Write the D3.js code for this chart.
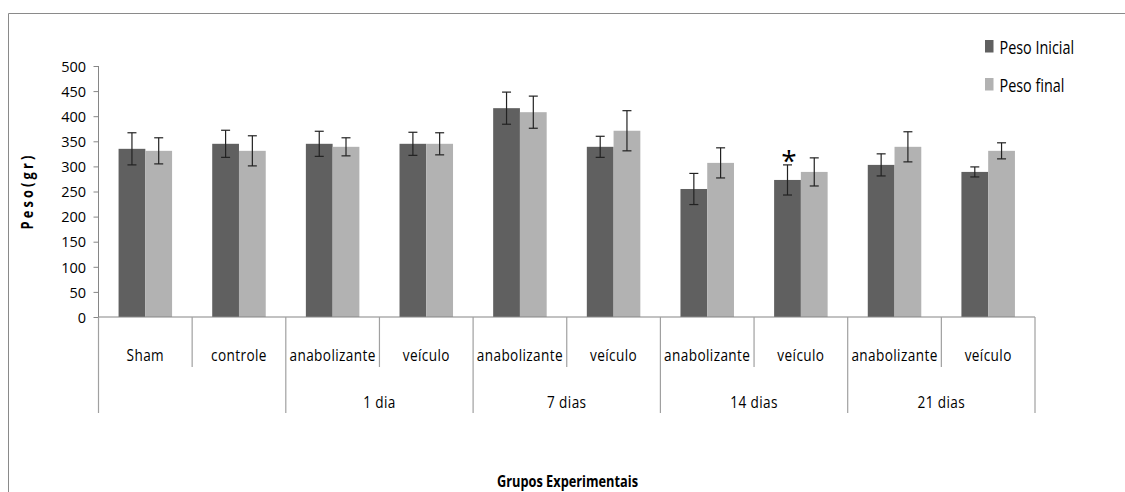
<!DOCTYPE html>
<html>
<head>
<meta charset="utf-8">
<script src="https://cdn.jsdelivr.net/npm/d3@7"></script>
<style>
  html, body { margin: 0; padding: 0; background: #fff; }
  svg { display: block; }
  text { font-family: "Open Sans", "Liberation Sans", sans-serif; fill: #000; }
</style>
</head>
<body>
<svg id="chart" width="1125" height="492"></svg>
<script>
// Experimental groups (bottom row of the category axis)
const categories = ["Sham", "controle", "anabolizante", "veículo", "anabolizante", "veículo",
                    "anabolizante", "veículo", "anabolizante", "veículo"];
const groupLabels = ["", "1 dia", "7 dias", "14 dias", "21 dias"];
const groupStarts = [0, 2, 4, 6, 8];
const groupSizes  = [2, 2, 2, 2, 2];

// Body weight (g) and error per group
const seriesNames = ["Peso Inicial", "Peso final"];
const pesoInicial = [335, 345, 345, 345, 416, 339, 255, 273, 303, 289];
const pesoFinal   = [331, 331, 339, 345, 408, 371, 307, 289, 339, 331];
const erroInicial = [32, 27, 25, 23, 32, 21, 31, 30, 22, 10];
const erroFinal   = [26, 30, 18, 22, 32, 40, 30, 28, 30, 16];

// Significance mark: category index and series
const marks = [{ cat: 7, series: 0, text: "*" }];

const yTicks = [0, 50, 100, 150, 200, 250, 300, 350, 400, 450, 500];

const colors = ["#606060", "#b2b2b2"];
const narrow = 0.8;   // horizontal squeeze applied to label text

const svg = d3.select("#chart");

// Outer frame (left and top edges)
svg.append("path")
  .attr("d", "M8.5,492 V13.5 H1125")
  .attr("fill", "none").attr("stroke", "#8a8a8a").attr("stroke-width", 1);

const plot = { left: 98.5, right: 1035, top: 66, bottom: 317 };

const y = d3.scaleLinear().domain([0, 500]).range([plot.bottom, plot.top]);
const x = d3.scaleBand().domain(d3.range(categories.length))
  .range([plot.left, plot.right]).paddingInner(0).paddingOuter(0);
const xs = d3.scaleBand().domain(d3.range(seriesNames.length))
  .range([0, x.bandwidth()]).paddingInner(0).paddingOuter(0.75);

// Y axis
const yAxis = d3.axisLeft(y).tickValues(yTicks).tickSize(5).tickPadding(7.5);
const gy = svg.append("g").attr("transform", `translate(${plot.left},0)`).call(yAxis);
gy.select(".domain").remove();
gy.selectAll(".tick line").attr("stroke", "#868686");
gy.selectAll(".tick text").attr("font-size", 14.5).attr("font-family", null).attr("dy", "0.36em");
svg.append("line")
  .attr("x1", plot.left).attr("x2", plot.left)
  .attr("y1", plot.top).attr("y2", plot.bottom)
  .attr("stroke", "#868686");

// Bars
const data = categories.map((c, i) => ({
  i,
  vals: [pesoInicial[i], pesoFinal[i]],
  errs: [erroInicial[i], erroFinal[i]]
}));

const groupsG = svg.append("g").selectAll("g").data(data).join("g")
  .attr("transform", d => `translate(${x(d.i)},0)`);

groupsG.selectAll("rect")
  .data(d => d.vals.map((v, s) => ({ v, s })))
  .join("rect")
  .attr("x", d => xs(d.s))
  .attr("width", xs.bandwidth())
  .attr("y", d => y(d.v))
  .attr("height", d => y(0) - y(d.v))
  .attr("fill", d => colors[d.s]);

// Error bars
const capW = 4.5;
const eb = groupsG.selectAll("g.err")
  .data(d => d.vals.map((v, s) => ({ v, e: d.errs[s], s })))
  .join("g").attr("class", "err")
  .attr("transform", d => `translate(${xs(d.s) + xs.bandwidth() / 2},0)`);
eb.append("line")
  .attr("x1", 0).attr("x2", 0)
  .attr("y1", d => y(d.v + d.e)).attr("y2", d => y(d.v - d.e))
  .attr("stroke", "#222").attr("stroke-width", 1.2);
eb.append("line")
  .attr("x1", -capW).attr("x2", capW)
  .attr("y1", d => y(d.v + d.e)).attr("y2", d => y(d.v + d.e))
  .attr("stroke", "#222").attr("stroke-width", 1.2);
eb.append("line")
  .attr("x1", -capW).attr("x2", capW)
  .attr("y1", d => y(d.v - d.e)).attr("y2", d => y(d.v - d.e))
  .attr("stroke", "#222").attr("stroke-width", 1.2);

// Significance marks
svg.append("g").selectAll("text").data(marks).join("text")
  .attr("transform", d => {
    const v = d.series === 0 ? pesoInicial[d.cat] : pesoFinal[d.cat];
    const e = d.series === 0 ? erroInicial[d.cat] : erroFinal[d.cat];
    const cx = x(d.cat) + xs(d.series) + xs.bandwidth() / 2 + 1.5;
    return `translate(${cx},${y(v + e) + 6})`;
  })
  .attr("text-anchor", "middle")
  .attr("font-size", 28)
  .attr("font-family", "'DejaVu Sans', sans-serif")
  .text(d => d.text);

// Category axis: baseline, dividers and labels
const axisGray = "#a0a0a0";
svg.append("line")
  .attr("x1", plot.left).attr("x2", plot.right)
  .attr("y1", plot.bottom).attr("y2", plot.bottom)
  .attr("stroke", "#868686").attr("stroke-width", 1.2);

const shortBottom = 367, longBottom = 413;
const groupEdges = new Set(groupStarts.concat([categories.length]));
svg.append("g").selectAll("line")
  .data(d3.range(categories.length + 1))
  .join("line")
  .attr("x1", i => i < categories.length ? x(i) : plot.right)
  .attr("x2", i => i < categories.length ? x(i) : plot.right)
  .attr("y1", plot.bottom)
  .attr("y2", i => groupEdges.has(i) ? longBottom : shortBottom)
  .attr("stroke", axisGray).attr("stroke-width", 1.2);

svg.append("g").selectAll("text").data(categories).join("text")
  .attr("transform", (c, i) => `translate(${x(i) + x.bandwidth() / 2},361) scale(${narrow},1)`)
  .attr("text-anchor", "middle")
  .attr("font-size", 17)
  .attr("letter-spacing", 0.5)
  .text(c => c);

svg.append("g").selectAll("text").data(groupLabels).join("text")
  .attr("transform", (g, k) =>
    `translate(${x(groupStarts[k]) + x.bandwidth() * groupSizes[k] / 2},407.5) scale(${narrow},1)`)
  .attr("text-anchor", "middle")
  .attr("font-size", 17)
  .attr("letter-spacing", 0.5)
  .text(g => g);

// Axis titles
svg.append("text")
  .attr("transform", `translate(33,191) rotate(-90) scale(${narrow},1)`)
  .attr("text-anchor", "middle")
  .attr("font-size", 16)
  .attr("font-weight", "bold")
  .attr("letter-spacing", 4)
  .text("Peso(gr)");

svg.append("text")
  .attr("transform", `translate(567.5,487) scale(${narrow},1)`)
  .attr("text-anchor", "middle")
  .attr("font-size", 16)
  .attr("font-weight", "bold")
  .text("Grupos Experimentais");

// Legend
const legend = svg.append("g").selectAll("g").data(seriesNames).join("g")
  .attr("transform", (d, i) => `translate(985,${40 + i * 38})`);
legend.append("rect")
  .attr("width", 8.5).attr("height", 12.5)
  .attr("fill", (d, i) => colors[i]);
legend.append("text")
  .attr("transform", `translate(14.5,13.5) scale(${narrow},1)`)
  .attr("font-size", 18)
  .text(d => d);
</script>
</body>
</html>
